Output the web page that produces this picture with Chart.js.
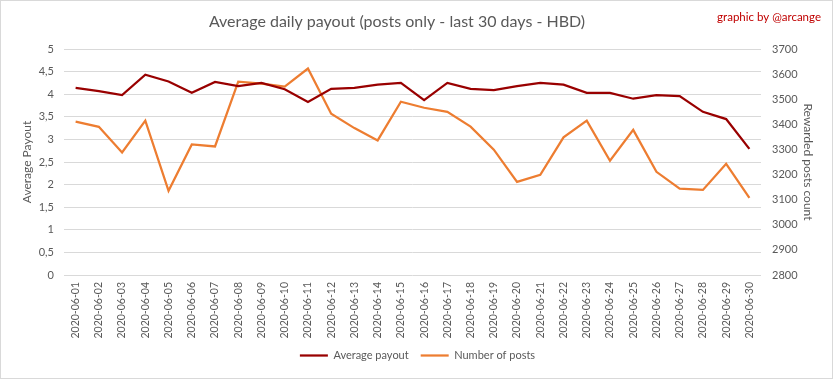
<!DOCTYPE html>
<html>
<head>
<meta charset="utf-8">
<script src="https://cdn.jsdelivr.net/npm/chart.js@4/dist/chart.umd.min.js"></script>
<style>
  html, body { margin: 0; padding: 0; background: #fff; }
  #wrap { width: 833px; height: 379px; position: relative; }
</style>
</head>
<body>
<div id="wrap"><canvas id="payoutChart" width="833" height="379"></canvas></div>
<script>
// data
const days = [
  '2020-06-01', '2020-06-02', '2020-06-03', '2020-06-04', '2020-06-05', '2020-06-06',
  '2020-06-07', '2020-06-08', '2020-06-09', '2020-06-10', '2020-06-11', '2020-06-12',
  '2020-06-13', '2020-06-14', '2020-06-15', '2020-06-16', '2020-06-17', '2020-06-18',
  '2020-06-19', '2020-06-20', '2020-06-21', '2020-06-22', '2020-06-23', '2020-06-24',
  '2020-06-25', '2020-06-26', '2020-06-27', '2020-06-28', '2020-06-29', '2020-06-30'
];
const avgPayout = [
  4.14, 4.07, 3.98, 4.43, 4.28, 4.03, 4.27, 4.18, 4.25, 4.11,
  3.83, 4.12, 4.14, 4.21, 4.25, 3.87, 4.25, 4.12, 4.09, 4.18,
  4.25, 4.21, 4.03, 4.03, 3.90, 3.98, 3.96, 3.61, 3.45, 2.79
];
const postCount = [
  3411, 3390, 3288, 3415, 3135, 3320, 3312, 3570, 3562, 3550,
  3622, 3442, 3385, 3336, 3490, 3466, 3450, 3391, 3299, 3171,
  3199, 3348, 3415, 3255, 3378, 3211, 3144, 3139, 3243, 3107
];
const payoutTicks = [0, 5, 0.5];   // min, max, step
const countTicks = [2800, 3700, 100];

const RED = '#990000';
const ORANGE = '#ED7D31';
const GREY_TEXT = '#595959';
const GRID = '#d9d9d9';
const FONT = 'Lato, "Open Sans", sans-serif';

const frame = {
  id: 'frame',
  beforeDraw(chart) {
    const c = chart.ctx;
    c.save();
    c.fillStyle = '#fff';
    c.fillRect(0, 0, chart.width, chart.height);
    c.restore();
  },
  afterDraw(chart) {
    const c = chart.ctx;
    c.save();
    c.strokeStyle = GRID;
    c.lineWidth = 1;
    c.strokeRect(0.5, 0.5, chart.width - 1, chart.height - 1);
    c.fillStyle = GREY_TEXT;
    c.font = '16px ' + FONT;
    c.textAlign = 'center';
    c.textBaseline = 'middle';
    c.fillText('Average daily payout (posts only - last 30 days - HBD)', 397, 22);
    c.fillStyle = '#C00000';
    c.font = '11.5px ' + FONT;
    c.textAlign = 'right';
    c.fillText('graphic by @arcange', 821, 17);
    c.restore();
  }
};

new Chart(document.getElementById('payoutChart'), {
  type: 'line',
  data: {
    labels: days,
    datasets: [{
      label: 'Average payout',
      data: avgPayout,
      yAxisID: 'y',
      borderColor: RED,
      backgroundColor: RED,
      borderWidth: 2.25,
      pointRadius: 0,
      tension: 0
    }, {
      label: 'Number of posts',
      data: postCount,
      yAxisID: 'y1',
      borderColor: ORANGE,
      backgroundColor: ORANGE,
      borderWidth: 2.25,
      pointRadius: 0,
      tension: 0
    }]
  },
  options: {
    responsive: false,
    animation: false,
    layout: { padding: { left: 20, right: 18, top: 49, bottom: 8 } },
    plugins: {
      title: { display: false },
      tooltip: { enabled: false },
      legend: {
        display: true,
        position: 'bottom',
        labels: {
          usePointStyle: true,
          pointStyle: 'line',
          pointStyleWidth: 28,
          boxHeight: 11,
          color: GREY_TEXT,
          font: { family: FONT, size: 11 },
          padding: 12
        }
      }
    },
    scales: {
      x: {
        offset: true,
        grid: { display: false, drawTicks: false },
        border: { display: false },
        ticks: {
          autoSkip: false,
          minRotation: 90,
          maxRotation: 90,
          padding: 7,
          color: GREY_TEXT,
          font: { family: FONT, size: 10.5 }
        },
        afterFit(scale) { scale.height = 63; }
      },
      y: {
        position: 'left',
        min: payoutTicks[0],
        max: payoutTicks[1],
        grid: { color: GRID, drawTicks: false },
        border: { display: false },
        ticks: {
          stepSize: payoutTicks[2],
          padding: 10,
          color: GREY_TEXT,
          font: { family: FONT, size: 11 },
          callback: v => String(v).replace('.', ',')
        },
        title: {
          display: true,
          text: 'Average Payout',
          color: GREY_TEXT,
          font: { family: FONT, size: 12 },
          padding: 0
        },
        afterFit(scale) { scale.width = 44; }
      },
      y1: {
        position: 'right',
        min: countTicks[0],
        max: countTicks[1],
        grid: { display: false, drawTicks: false },
        border: { display: false },
        ticks: {
          stepSize: countTicks[2],
          padding: 11,
          color: GREY_TEXT,
          font: { family: FONT, size: 11 },
          callback: v => String(v)
        },
        title: {
          display: true,
          text: 'Rewarded posts count',
          color: GREY_TEXT,
          font: { family: FONT, size: 12 },
          padding: 0
        },
        afterFit(scale) { scale.width = 54; }
      }
    }
  },
  plugins: [frame]
});
</script>
</body>
</html>
